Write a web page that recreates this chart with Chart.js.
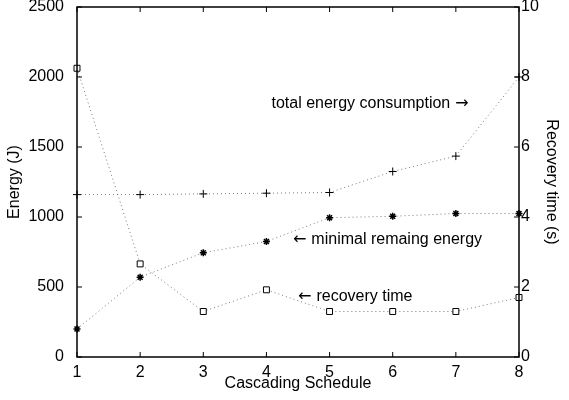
<!DOCTYPE html>
<html>
<head>
<meta charset="utf-8">
<script src="https://cdn.jsdelivr.net/npm/chart.js@4.4.1/dist/chart.umd.min.js"></script>
<style>
  html, body { margin: 0; padding: 0; background: #fff; }
  #wrap { width: 569px; height: 400px; }
</style>
</head>
<body>
<div id="wrap"><canvas id="c"></canvas></div>
<script>
const schedules = [1, 2, 3, 4, 5, 6, 7, 8]
const totalEnergy = [1160, 1160, 1165, 1170, 1175, 1325, 1435, 2000]
const minRemaining = [200, 570, 745, 825, 995, 1005, 1025, 1025]
const recoveryTime = [8.25, 2.66, 1.3, 1.92, 1.3, 1.3, 1.3, 1.7]
const energyTicks = [0, 500, 1000, 1500, 2000, 2500]
const timeTicks = [0, 2, 4, 6, 8, 10]

// annotation texts, anchored in data coords (x, energy); arrow drawn separately
const notes = [
  { text: 'total energy consumption', arrow: '\u2192', x: 4.08, y: 1810 },
  { text: 'minimal remaing energy', arrow: '\u2190', x: 4.42, y: 836 },
  { text: 'recovery time', arrow: '\u2190', x: 4.5, y: 430 }
]

const FONT = '"Liberation Sans", Arial, Helvetica, sans-serif'
const pts = vals => schedules.map((s, i) => ({ x: s, y: vals[i] }))

const boxPlugin = {
  id: 'box',
  afterDraw (chart) {
    const { ctx, chartArea: a, scales } = chart
    ctx.save()
    ctx.strokeStyle = '#000'
    ctx.lineWidth = 1.5
    ctx.strokeRect(a.left, a.top, a.right - a.left, a.bottom - a.top)
    ctx.lineWidth = 1
    ctx.beginPath()
    const tl = 5
    schedules.forEach(v => {
      const px = scales.x.getPixelForValue(v)
      ctx.moveTo(px, a.bottom); ctx.lineTo(px, a.bottom - tl)
      ctx.moveTo(px, a.top); ctx.lineTo(px, a.top + tl)
    })
    energyTicks.forEach(v => {
      const py = scales.y.getPixelForValue(v)
      ctx.moveTo(a.left, py); ctx.lineTo(a.left + tl, py)
    })
    timeTicks.forEach(v => {
      const py = scales.y2.getPixelForValue(v)
      ctx.moveTo(a.right, py); ctx.lineTo(a.right - tl, py)
    })
    ctx.stroke()
    ctx.fillStyle = '#000'
    ctx.textBaseline = 'middle'
    ctx.textAlign = 'left'
    const arrowFont = '16px "DejaVu Sans", sans-serif'
    const textFont = '16px ' + FONT
    notes.forEach(n => {
      let px = scales.x.getPixelForValue(n.x)
      const py = scales.y.getPixelForValue(n.y)
      if (n.arrow === '\u2190') {
        ctx.font = arrowFont
        ctx.fillText(n.arrow, px, py)
        px += ctx.measureText(n.arrow).width + 5
        ctx.font = textFont
        ctx.fillText(n.text, px, py)
      } else {
        ctx.font = textFont
        ctx.fillText(n.text, px, py)
        px += ctx.measureText(n.text).width + 5
        ctx.font = arrowFont
        ctx.fillText(n.arrow, px, py)
      }
    })
    ctx.restore()
  }
}

const lineStyle = {
  borderColor: '#7a7a7a',
  borderWidth: 1,
  borderDash: [1, 3],
  pointBorderColor: '#000',
  pointBorderWidth: 1,
  pointHoverRadius: 0,
  clip: false,
  tension: 0
}

const tickFont = { family: FONT, size: 16 }
const plain = v => String(v)

new Chart(document.getElementById('c'), {
  type: 'line',
  data: {
    datasets: [
      {
        ...lineStyle,
        label: 'total energy consumption',
        data: pts(totalEnergy),
        pointStyle: 'cross',
        pointRadius: 4,
        yAxisID: 'y'
      },
      {
        ...lineStyle,
        label: 'minimal remaing energy',
        data: pts(minRemaining),
        pointStyle: 'star',
        pointRadius: 3.5,
        pointBorderWidth: 1.5,
        yAxisID: 'y'
      },
      {
        ...lineStyle,
        label: 'recovery time',
        data: pts(recoveryTime),
        pointStyle: 'rect',
        pointRadius: 4.2,
        pointBackgroundColor: '#fff',
        yAxisID: 'y2'
      }
    ]
  },
  options: {
    responsive: true,
    maintainAspectRatio: false,
    animation: false,
    events: [],
    layout: { padding: { top: 7, left: 0, right: 0, bottom: 0 } },
    plugins: {
      legend: { display: false },
      tooltip: { enabled: false }
    },
    scales: {
      x: {
        type: 'linear',
        min: 1,
        max: 8,
        grid: { display: false },
        border: { display: false },
        ticks: { stepSize: 1, color: '#000', padding: -2, font: tickFont, callback: plain },
        title: { display: true, text: 'Cascading Schedule', color: '#000', padding: { top: 0, bottom: 7 }, font: tickFont },
        afterFit: s => { s.height = 43; s.paddingLeft = 0; s.paddingRight = 0 }
      },
      y: {
        type: 'linear',
        position: 'left',
        min: 0,
        max: 2500,
        grid: { display: false },
        border: { display: false },
        ticks: { stepSize: 500, color: '#000', padding: 5, font: tickFont, callback: plain },
        title: { display: true, text: 'Energy (J)', color: '#000', padding: 5, font: tickFont },
        afterFit: s => { s.width = 77; s.paddingTop = 0; s.paddingBottom = 0 }
      },
      y2: {
        type: 'linear',
        position: 'right',
        min: 0,
        max: 10,
        grid: { display: false },
        border: { display: false },
        ticks: { stepSize: 2, color: '#000', padding: -6, font: tickFont, callback: plain },
        title: { display: true, text: 'Recovery time (s)', color: '#000', padding: 8, font: tickFont },
        afterFit: s => { s.width = 50; s.paddingTop = 0; s.paddingBottom = 0 }
      }
    }
  },
  plugins: [boxPlugin]
})
</script>
</body>
</html>
